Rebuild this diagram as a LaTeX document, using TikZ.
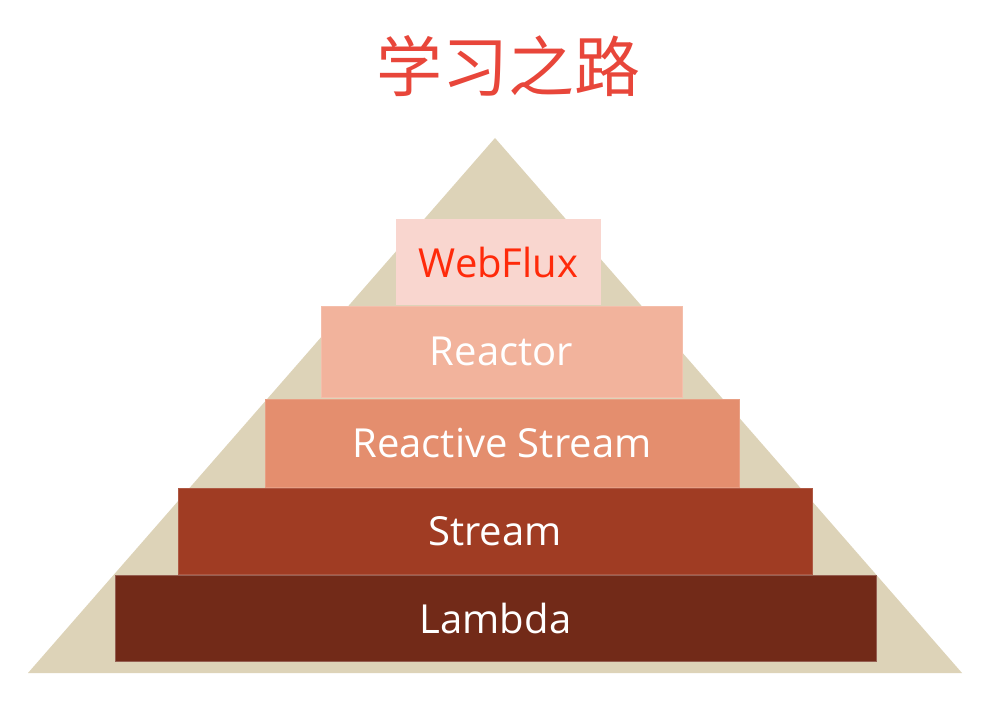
\documentclass[tikz,border=0pt]{standalone}
\usepackage{fontspec}
\setmainfont{Open Sans}
\newfontfamily\cjk{Noto Sans CJK SC}
\definecolor{pyramid}{HTML}{DDD3B8}
\definecolor{titlered}{HTML}{E8463A}
\definecolor{fluxred}{HTML}{FF2A0A}
\definecolor{webfluxfill}{HTML}{F9D6CF}
\definecolor{reactorfill}{HTML}{F2B39C}
\definecolor{rstreamfill}{HTML}{E48E6E}
\definecolor{streamfill}{HTML}{A03C23}
\definecolor{lambdafill}{HTML}{722A18}

\begin{document}
\begin{tikzpicture}[x=1pt,y=-1pt,
	layer/.style={rectangle,inner sep=0pt,text=white,font=\fontsize{40}{46}\selectfont}]
	\useasboundingbox[fill=white] (0,0) rectangle (992,703);
	% pyramid in the back
	\fill[pyramid] (495,138)--(28,673)--(962,673)--cycle;
	\node[titlered,font=\cjk\fontsize{66}{72}\selectfont] (title) at (508,66) {学习之路};
	% layers, bottom to top
	\node[layer,fill=lambdafill,draw=lambdafill!75!white,minimum width=761,minimum height=86] (lambda) at (495.5,618) {Lambda};
	\node[layer,fill=streamfill,draw=streamfill!85!white,minimum width=634,minimum height=86] (stream) at (495,531) {Stream};
	\node[layer,fill=rstreamfill,draw=rstreamfill!85!white,minimum width=474,minimum height=88] (rstream) at (502,443) {Reactive Stream};
	\node[layer,fill=reactorfill,draw=reactorfill!85!white,minimum width=361,minimum height=91] (reactor) at (501.5,351.5) {Reactor};
	\node[layer,fill=webfluxfill,text=fluxred,minimum width=205,minimum height=86] (webflux) at (498.5,262) {WebFlux};
\end{tikzpicture}
\end{document}
